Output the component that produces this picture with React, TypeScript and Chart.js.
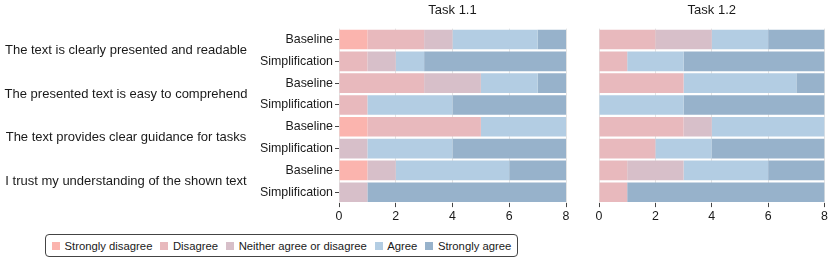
import React, { useEffect, useRef } from "react";
import { Chart, registerables } from "chart.js";

Chart.register(...registerables);

const rowLabels = [
  "Baseline", "Simplification",
  "Baseline", "Simplification",
  "Baseline", "Simplification",
  "Baseline", "Simplification",
];
const groupLabels = [
  "The text is clearly presented and readable",
  "The presented text is easy to comprehend",
  "The text provides clear guidance for tasks",
  "I trust my understanding of the shown text",
];
const responseLabels = [
  "Strongly disagree",
  "Disagree",
  "Neither agree or disagree",
  "Agree",
  "Strongly agree",
];
const responseColors = ["#fbb4ae", "#e8b9bd", "#d7bfc9", "#b3cde3", "#97b2cb"];
const xTicks = [0, 2, 4, 6, 8];

// Task 1.1
const t11StronglyDisagree = [1, 0, 0, 0, 1, 0, 1, 0];
const t11Disagree = [2, 1, 3, 1, 4, 0, 0, 0];
const t11Neither = [1, 1, 2, 0, 0, 1, 1, 1];
const t11Agree = [3, 1, 2, 3, 3, 3, 4, 0];
const t11StronglyAgree = [1, 5, 1, 4, 0, 4, 2, 7];

// Task 1.2
const t12StronglyDisagree = [0, 0, 0, 0, 0, 0, 0, 0];
const t12Disagree = [2, 1, 3, 0, 3, 2, 1, 1];
const t12Neither = [2, 0, 0, 0, 1, 0, 2, 0];
const t12Agree = [2, 2, 4, 3, 4, 2, 3, 0];
const t12StronglyAgree = [2, 5, 1, 5, 0, 4, 2, 7];

const FONT = "'Liberation Sans', Arial, sans-serif";

function makeConfig(title: string, series: number[][], showY: boolean, yWidth: number, padRight: number) {
  const groupPlugin = {
    id: "groupLabels",
    afterDraw(chart: any) {
      if (!showY) return;
      const ctx = chart.ctx;
      const ys = chart.scales.y;
      ctx.save();
      ctx.font = `13px ${FONT}`;
      ctx.fillStyle = "#1a1a1a";
      ctx.textAlign = "center";
      ctx.textBaseline = "middle";
      groupLabels.forEach((g, i) => {
        const y = (ys.getPixelForValue(2 * i) + ys.getPixelForValue(2 * i + 1)) / 2;
        ctx.fillText(g, 126, y);
      });
      ctx.restore();
    },
  };
  return {
    type: "bar" as const,
    data: {
      labels: rowLabels,
      datasets: responseLabels.map((l, i) => ({
        label: l,
        data: series[i],
        backgroundColor: responseColors[i],
        borderWidth: 0,
        barPercentage: 0.9,
        categoryPercentage: 1.0,
      })),
    },
    options: {
      indexAxis: "y" as const,
      animation: false as const,
      responsive: false,
      maintainAspectRatio: false,
      layout: { padding: { left: 0, right: padRight, top: 0, bottom: 0 } },
      plugins: {
        legend: { display: false },
        tooltip: { enabled: false },
        title: {
          display: true,
          text: title,
          fullSize: false,
          color: "#1a1a1a",
          font: { family: FONT, size: 13, weight: "normal" as const },
          padding: { top: 3, bottom: 10 },
        },
      },
      scales: {
        x: {
          stacked: true,
          min: 0,
          max: 8,
          afterBuildTicks(scale: any) {
            scale.ticks = xTicks.map((v) => ({ value: v }));
          },
          grid: {
            display: true,
            drawOnChartArea: true,
            color: "#e3e3e3",
            tickColor: "#444",
            tickLength: 4,
            lineWidth: 1,
          },
          border: { display: false },
          ticks: {
            color: "#1a1a1a",
            font: { family: FONT, size: 12.4 },
            padding: 2,
            maxRotation: 0,
          },
        },
        y: {
          stacked: true,
          afterFit(scale: any) {
            scale.width = yWidth;
          },
          grid: {
            display: showY,
            drawOnChartArea: false,
            color: "#444",
            tickColor: "#444",
            tickLength: 4,
            offset: false,
          },
          border: { display: false },
          ticks: {
            display: showY,
            color: "#1a1a1a",
            font: { family: FONT, size: 12.4 },
            padding: 2,
          },
        },
      },
    },
    plugins: [groupPlugin],
  };
}

function ChartBox(props: { left: number; width: number; title: string; series: number[][]; showY: boolean; yWidth: number; padRight: number }) {
  const ref = useRef<HTMLCanvasElement | null>(null);
  useEffect(() => {
    if (!ref.current) return;
    const chart = new Chart(ref.current, makeConfig(props.title, props.series, props.showY, props.yWidth, props.padRight) as any);
    return () => chart.destroy();
  }, []);
  return (
    <canvas
      ref={ref}
      width={props.width}
      height={226}
      style={{ position: "absolute", left: props.left, top: 0, width: props.width, height: 226 }}
    />
  );
}

export default function App() {
  const s11 = [t11StronglyDisagree, t11Disagree, t11Neither, t11Agree, t11StronglyAgree];
  const s12 = [t12StronglyDisagree, t12Disagree, t12Neither, t12Agree, t12StronglyAgree];
  return (
    <div style={{ position: "fixed", left: 0, top: 0, width: 830, height: 260, background: "#fff", fontFamily: FONT }}>
      <ChartBox left={0} width={576} title="Task 1.1" series={s11} showY={true} yWidth={339} padRight={10} />
      <ChartBox left={585} width={245} title="Task 1.2" series={s12} showY={false} yWidth={14} padRight={2} />
      <div
        style={{
          position: "absolute",
          left: 45,
          top: 234,
          width: 473,
          height: 23,
          border: "1px solid #444",
          borderRadius: 4,
          boxSizing: "border-box",
          display: "flex",
          alignItems: "center",
          paddingLeft: 6,
          gap: 8,
          fontSize: 11.3,
          color: "#1a1a1a",
          whiteSpace: "nowrap",
        }}
      >
        {responseLabels.map((l, i) => (
          <div key={l} style={{ display: "flex", alignItems: "center", gap: 4.5, flexShrink: 0 }}>
            <span style={{ display: "inline-block", width: 8, height: 8, background: responseColors[i] }} />
            <span>{l}</span>
          </div>
        ))}
      </div>
    </div>
  );
}
